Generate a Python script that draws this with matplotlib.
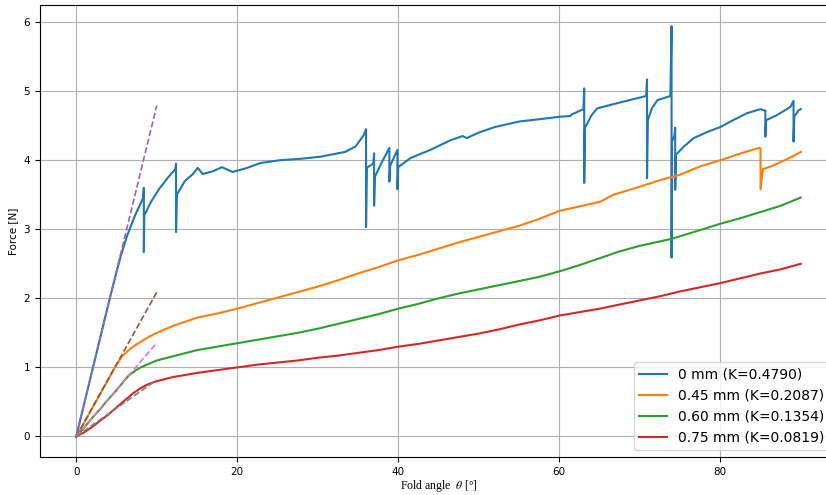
import numpy as np
import matplotlib
matplotlib.use("Agg")
import matplotlib.pyplot as plt

plt.rcParams["mathtext.fontset"] = "stix"

# fold angle [deg] / force [N] samples per film thickness
theta_0 = [0, 1, 2, 3, 4, 5, 5.5, 6.3, 7.3, 8.3, 8.4, 8.4, 8.45, 9.3, 10.4, 11.4, 12.3, 12.4, 12.4,
           12.5, 13.5, 14.5, 15.1, 15.7, 17, 18.1, 19.4, 21, 22.9, 25.3, 27.8, 30.3, 33.4, 34.7,
           35.7, 36.0, 36.0, 36.1, 36.9, 37.0, 37.0, 37.1, 38.0, 38.9, 38.9, 39.0, 39.9, 39.9,
           40.0, 41.5, 44, 46.5, 48, 48.5, 50, 52, 55, 58, 60.1, 61.4, 61.5, 63.0, 63.1, 63.1,
           63.2, 64.0, 64.7, 67, 70.8, 70.9, 70.9, 71.0, 71.5, 72.2, 73.8, 73.95, 73.95, 74.0,
           74.3, 74.4, 74.4, 74.5, 75.5, 76.7, 78.4, 80, 81.6, 83.3, 85.0, 85.5, 85.6, 85.6,
           85.7, 87, 88.7, 89.1, 89.1, 89.2, 89.7, 90]
force_0 = [0, 0.48, 0.96, 1.44, 1.92, 2.38, 2.6, 2.9, 3.2, 3.45, 3.6, 2.67, 3.2, 3.4, 3.6, 3.75, 3.87,
           3.95, 2.96, 3.5, 3.7, 3.8, 3.89, 3.8, 3.84, 3.9, 3.83, 3.88, 3.96, 4.0, 4.02, 4.05, 4.12,
           4.2, 4.36, 4.45, 3.03, 3.89, 3.95, 4.1, 3.34, 3.76, 3.98, 4.18, 3.69, 3.92, 4.15, 3.58,
           3.9, 4.03, 4.15, 4.29, 4.35, 4.32, 4.4, 4.48, 4.56, 4.6, 4.63, 4.64, 4.66, 4.74, 5.04,
           3.67, 4.47, 4.65, 4.75, 4.82, 4.93, 5.17, 3.74, 4.58, 4.75, 4.87, 4.93, 5.94, 2.59,
           4.27, 4.35, 4.47, 3.57, 4.08, 4.2, 4.32, 4.41, 4.48, 4.58, 4.68, 4.74, 4.72, 4.72,
           4.34, 4.58, 4.65, 4.77, 4.86, 4.27, 4.63, 4.72, 4.74]

theta_45 = [0, 1, 2, 3, 4, 5, 5.7, 6.5, 7.3, 8, 9, 10, 12, 15, 17.5, 20, 22.5, 25, 27.5, 30, 32.5,
            35, 37.5, 40, 42.5, 45, 47.5, 50, 52.5, 55, 57.5, 60.1, 62.5, 65.1, 66.7, 69, 72.5,
            75, 77.5, 80, 83.1, 84.9, 85.0, 85.0, 85.3, 86.5, 88, 89.7, 90]
force_45 = [0, 0.2, 0.41, 0.62, 0.83, 1.04, 1.16, 1.25, 1.32, 1.37, 1.44, 1.5, 1.6, 1.72, 1.78,
            1.85, 1.93, 2.01, 2.09, 2.17, 2.26, 2.36, 2.45, 2.55, 2.63, 2.72, 2.81, 2.89, 2.97,
            3.05, 3.15, 3.27, 3.33, 3.4, 3.5, 3.58, 3.71, 3.79, 3.91, 4.0, 4.12, 4.18, 4.16,
            3.58, 3.87, 3.92, 4.0, 4.1, 4.12]

theta_60 = [0, 1, 2, 3, 4, 5, 6.5, 7.3, 8, 9, 10, 12, 15, 17.5, 20, 22.5, 25, 27.5, 30, 32.5, 35,
            37.5, 40, 42.5, 45, 47.5, 50, 52.5, 55, 57.5, 60, 62.5, 65, 67.5, 70, 73.9, 77, 80,
            82.5, 85, 87.5, 90]
force_60 = [0, 0.13, 0.27, 0.4, 0.54, 0.67, 0.88, 0.95, 1.0, 1.05, 1.1, 1.16, 1.25, 1.3, 1.35,
            1.4, 1.45, 1.5, 1.56, 1.63, 1.7, 1.77, 1.85, 1.92, 2.0, 2.07, 2.13, 2.19, 2.25, 2.31,
            2.39, 2.48, 2.58, 2.68, 2.76, 2.86, 2.97, 3.08, 3.16, 3.25, 3.34, 3.46]

theta_75 = [0, 1, 2, 3, 4, 5, 6, 7, 8, 9, 10, 12, 15, 17.5, 20, 22.5, 25, 27.5, 30, 32.5, 35,
            37.5, 40, 42.5, 45, 47.5, 50, 52.5, 55, 57.5, 60, 62.5, 65, 67.5, 70, 72.5, 75, 77.5,
            80, 82.5, 85, 87.5, 90]
force_75 = [0, 0.06, 0.14, 0.23, 0.32, 0.42, 0.52, 0.62, 0.7, 0.76, 0.8, 0.86, 0.92, 0.96, 1.0,
            1.04, 1.07, 1.1, 1.14, 1.17, 1.21, 1.25, 1.3, 1.34, 1.39, 1.44, 1.49, 1.55, 1.62,
            1.68, 1.75, 1.8, 1.85, 1.91, 1.97, 2.03, 2.1, 2.16, 2.22, 2.29, 2.36, 2.42, 2.5]

labels = ["0 mm", "0.45 mm", "0.60 mm", "0.75 mm"]
stiffness = [0.4790, 0.2087, 0.1354, 0.0819]

series = [(theta_0, force_0), (theta_45, force_45), (theta_60, force_60), (theta_75, force_75)]

fig = plt.figure(figsize=(8.26, 4.95), dpi=100)
ax = fig.add_axes([40 / 826, 38 / 495, 797 / 826, 452 / 495])

for (th, f), lab, k in zip(series, labels, stiffness):
    ax.plot(th, f, linewidth=1.5, label=f"{lab} (K={k:.4f})")

# linear fits over the first 10 degrees
fit_x = np.array([0, 10])
for i, k in enumerate(stiffness):
    ax.plot(fit_x, k * fit_x, "--", color=f"C{i + 4}", linewidth=1.2)

ax.set_xlim(-4.5, 94.5)
ax.set_ylim(-0.2975, 6.2475)
ax.grid(True)
ax.tick_params(labelsize=7.5)
ax.set_xlabel(r"Fold angle  $\theta$ [°]", fontfamily="Liberation Serif", fontsize=8.5,
              labelpad=1)
ax.set_ylabel("Force [N]", fontsize=7.5)
ax.legend(loc="lower right", fontsize=10)

fig.savefig("out.png", dpi=100)
